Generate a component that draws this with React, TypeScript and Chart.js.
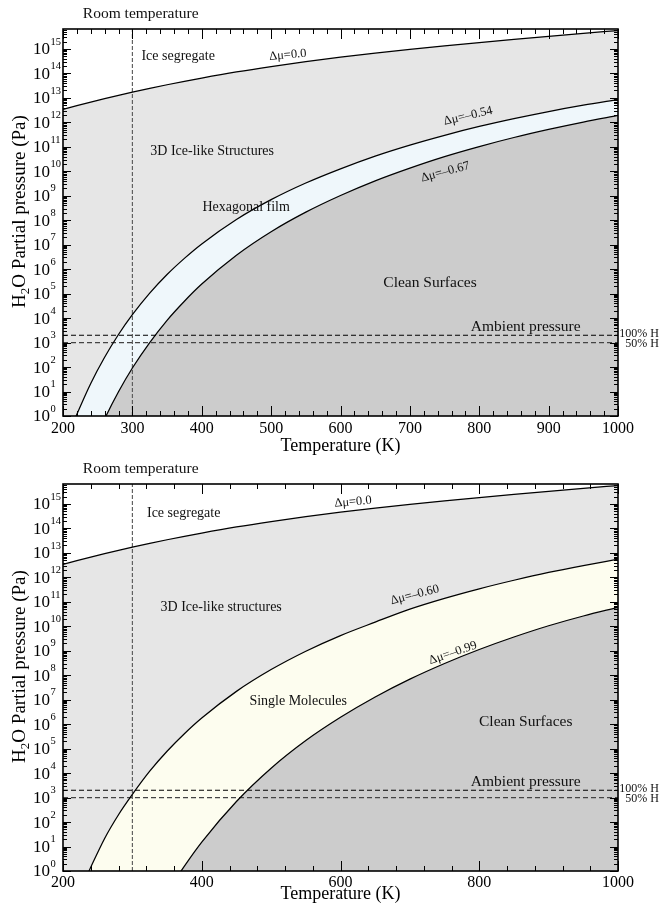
import React, { useEffect, useRef } from 'react';
import { Chart, registerables } from 'chart.js';

Chart.register(...registerables);

const FONT = '"Liberation Serif", "Times New Roman", Times, serif';

// Temperature grid (K)
const temperatures = [200, 220, 240, 260, 280, 300, 325, 350, 375, 400, 450, 500, 550, 600, 650, 700, 750, 800, 850, 900, 950, 1000];

// Phase boundaries: exponent of the H2O partial pressure, log10(p / Pa)
const mu000 = [12.53, 12.68, 12.825, 12.965, 13.1, 13.23, 13.385, 13.535, 13.675, 13.81, 14.06, 14.28, 14.48, 14.66, 14.825, 14.98, 15.125, 15.26, 15.39, 15.515, 15.635, 15.75];
const mu054 = [-1.29, 0.07, 1.33, 2.4, 3.33, 4.14, 5.02, 5.78, 6.44, 7.03, 8.03, 8.84, 9.52, 10.1, 10.62, 11.07, 11.47, 11.83, 12.15, 12.44, 12.7, 12.93];
const mu067 = [-4.57, -2.91, -1.4, -0.12, 0.99, 1.96, 3.0, 3.91, 4.69, 5.39, 6.57, 7.53, 8.33, 9.01, 9.61, 10.13, 10.6, 11.01, 11.38, 11.71, 12.01, 12.28];
const mu060 = [-2.59, -1.1, 0.15, 1.33, 2.3, 3.13, 4.08, 4.895, 5.61, 6.25, 7.34, 8.23, 8.98, 9.62, 10.17, 10.7, 11.14, 11.53, 11.88, 12.2, 12.48, 12.74];
const mu099 = [-12.42, -10.04, -8.04, -6.23, -4.72, -3.4, -1.97, -0.87, 0.2, 1.18, 2.84, 4.2, 5.33, 6.28, 7.11, 7.84, 8.48, 9.05, 9.56, 10.02, 10.42, 10.77];

// Reference lines
const roomTemperature = 300;
const pressure100H = 2000;
const pressure50H = 1000;

// Axis ranges
const tempMin = 200;
const tempMax = 1000;
const pressureMin = 1;
const pressureMax = 6.5e15;
const maxDecade = 15;

// Label texts
const topLabels = [
  { text: 'Ice segregate', t: 366, e: 14.71, size: 14, rot: 0 },
  { text: 'Δμ=0.0', t: 524, e: 14.75, size: 12.5, rot: -5 },
  { text: '3D Ice-like Structures', t: 415, e: 10.83, size: 14, rot: 0 },
  { text: 'Δμ=–0.54', t: 784, e: 12.26, size: 12.5, rot: -13 },
  { text: 'Δμ=–0.67', t: 751, e: 9.97, size: 12.5, rot: -15 },
  { text: 'Hexagonal film', t: 464, e: 8.54, size: 14, rot: 0 },
  { text: 'Clean Surfaces', t: 729, e: 5.43, size: 15.5, rot: 0 },
  { text: 'Ambient pressure', t: 867, e: 3.64, size: 15.5, rot: 0 },
];
const bottomLabels = [
  { text: 'Ice segregate', t: 374, e: 14.63, size: 14, rot: 0 },
  { text: 'Δμ=0.0', t: 618, e: 15.08, size: 12.5, rot: -5 },
  { text: '3D Ice-like structures', t: 428, e: 10.79, size: 14, rot: 0 },
  { text: 'Δμ=–0.60', t: 707, e: 11.28, size: 12.5, rot: -14.5 },
  { text: 'Δμ=–0.99', t: 762, e: 8.91, size: 12.5, rot: -19 },
  { text: 'Single Molecules', t: 539, e: 6.95, size: 14, rot: 0 },
  { text: 'Clean Surfaces', t: 867, e: 6.09, size: 15.5, rot: 0 },
  { text: 'Ambient pressure', t: 867, e: 3.64, size: 15.5, rot: 0 },
];

const COL_3D = '#e6e6e6';
const COL_CLEAN = '#cccccc';
const COL_HEX = '#eff7fb';
const COL_SINGLE = '#fdfdef';

type Label = { text: string; t: number; e: number; size: number; rot: number };

type Panel = {
  upper: number[];
  middle: number[];
  lower: number[];
  bandColor: string;
  xStep: number;
  xMajor: number;
  labels: Label[];
  titlePad: number;
  tickPad: number;
};

const isPow10 = (v: number) => {
  const lg = Math.log10(v);
  return Math.abs(lg - Math.round(lg)) < 1e-6;
};

function decorPlugin(p: Panel) {
  return {
    id: 'phaseDecor',
    afterDraw(chart: any) {
      const ctx: CanvasRenderingContext2D = chart.ctx;
      const xs = chart.scales.x;
      const ys = chart.scales.y;
      const { left, right, top, bottom } = chart.chartArea;
      ctx.save();

      // region labels
      ctx.fillStyle = '#111';
      for (const lb of p.labels) {
        const x = xs.getPixelForValue(lb.t);
        const y = ys.getPixelForValue(Math.pow(10, lb.e));
        ctx.save();
        ctx.translate(x, y);
        if (lb.rot) ctx.rotate((lb.rot * Math.PI) / 180);
        ctx.font = `${lb.size}px ${FONT}`;
        ctx.textAlign = 'center';
        ctx.textBaseline = 'middle';
        ctx.fillText(lb.text, 0, 0);
        ctx.restore();
      }

      // room temperature label above the frame
      ctx.font = `15.5px ${FONT}`;
      ctx.textAlign = 'center';
      ctx.textBaseline = 'middle';
      ctx.fillText('Room temperature', xs.getPixelForValue(312), top - 15);

      // humidity labels at the right
      ctx.font = `12px ${FONT}`;
      ctx.textAlign = 'right';
      ctx.fillText('100% H', right + 41, ys.getPixelForValue(pressure100H) - 1);
      ctx.fillText('50% H', right + 41, ys.getPixelForValue(pressure50H) + 1.5);

      // frame
      ctx.strokeStyle = '#000';
      ctx.lineWidth = 1.6;
      ctx.strokeRect(left, top, right - left, bottom - top);

      // inward ticks
      ctx.lineWidth = 1;
      ctx.beginPath();
      for (const tk of xs.ticks) {
        const x = Math.round(xs.getPixelForValue(tk.value)) + 0.5;
        const len = tk.value % p.xMajor === 0 ? 10 : 5;
        ctx.moveTo(x, bottom);
        ctx.lineTo(x, bottom - len);
        ctx.moveTo(x, top);
        ctx.lineTo(x, top + len);
      }
      for (const tk of ys.ticks) {
        const y = Math.round(ys.getPixelForValue(tk.value)) + 0.5;
        const len = isPow10(tk.value) ? 8 : 4;
        ctx.moveTo(left, y);
        ctx.lineTo(left + len, y);
        ctx.moveTo(right, y);
        ctx.lineTo(right - len, y);
      }
      ctx.stroke();

      // y tick labels 10^n
      ctx.fillStyle = '#000';
      for (const tk of ys.ticks) {
        if (!isPow10(tk.value)) continue;
        const n = Math.round(Math.log10(tk.value));
        const y = ys.getPixelForValue(tk.value);
        ctx.font = `17px ${FONT}`;
        ctx.textAlign = 'right';
        ctx.textBaseline = 'middle';
        ctx.fillText('10', left - 13, y + 1);
        ctx.font = `10.5px ${FONT}`;
        ctx.textAlign = 'left';
        ctx.fillText(String(n), left - 12.5, y - 7);
      }

      // y axis title with subscript
      ctx.save();
      ctx.translate(25, (top + bottom) / 2 - 11);
      ctx.rotate(-Math.PI / 2);
      ctx.textAlign = 'left';
      ctx.textBaseline = 'alphabetic';
      const big = `19px ${FONT}`;
      const small = `13px ${FONT}`;
      const rest = 'O Partial pressure (Pa)';
      ctx.font = big;
      const wH = ctx.measureText('H').width;
      const wR = ctx.measureText(rest).width;
      ctx.font = small;
      const w2 = ctx.measureText('2').width;
      let x0 = -(wH + w2 + wR) / 2;
      ctx.font = big;
      ctx.fillText('H', x0, 0);
      x0 += wH;
      ctx.font = small;
      ctx.fillText('2', x0, 4);
      x0 += w2;
      ctx.font = big;
      ctx.fillText(rest, x0, 0);
      ctx.restore();

      ctx.restore();
    },
  };
}

function curve(exps: number[], color: string, fill: any) {
  return {
    data: temperatures.map((t, i) => ({ x: t, y: Math.pow(10, exps[i]) })),
    borderColor: '#000',
    borderWidth: 1.25,
    pointRadius: 0,
    fill,
    backgroundColor: color,
    cubicInterpolationMode: 'monotone',
  };
}

function hline(p: number, color: string) {
  return {
    data: [
      { x: tempMin, y: p },
      { x: tempMax, y: p },
    ],
    borderColor: color,
    borderWidth: 1.1,
    borderDash: [5, 3],
    pointRadius: 0,
    fill: false,
  };
}

function vline(t: number) {
  return {
    data: [
      { x: t, y: pressureMin },
      { x: t, y: pressureMax },
    ],
    borderColor: '#555',
    borderWidth: 1.1,
    borderDash: [4, 2],
    pointRadius: 0,
    fill: false,
  };
}

function logTicks() {
  const out: { value: number; major: boolean }[] = [];
  for (let n = 0; n <= maxDecade; n++) {
    for (let m = 1; m <= 9; m++) {
      const v = m * Math.pow(10, n);
      if (v <= pressureMax) out.push({ value: v, major: m === 1 });
    }
  }
  return out;
}

function buildConfig(p: Panel): any {
  return {
    type: 'line',
    data: {
      datasets: [
        curve(p.lower, COL_CLEAN, 'start'),
        curve(p.middle, p.bandColor, '-1'),
        curve(p.upper, COL_3D, '-1'),
        hline(pressure100H, '#000'),
        hline(pressure50H, '#444'),
        vline(roomTemperature),
      ],
    },
    options: {
      responsive: false,
      animation: false,
      layout: { padding: { left: 0, right: 42, top: 29, bottom: 0 } },
      plugins: {
        legend: { display: false },
        tooltip: { enabled: false },
        filler: { drawTime: 'beforeDatasetsDraw' },
      },
      scales: {
        x: {
          type: 'linear',
          min: tempMin,
          max: tempMax,
          grid: { display: false, drawTicks: false },
          border: { display: false },
          ticks: {
            stepSize: p.xStep,
            maxTicksLimit: 200,
            autoSkip: false,
            maxRotation: 0,
            minRotation: 0,
            padding: p.tickPad,
            color: '#000',
            font: { family: FONT, size: 16 },
            callback: (v: number) => (v % p.xMajor === 0 ? String(v) : ''),
          },
          title: {
            display: true,
            text: 'Temperature (K)',
            color: '#000',
            font: { family: FONT, size: 18, lineHeight: 1 },
            padding: { top: 0, bottom: p.titlePad },
          },
          afterFit: (s: any) => {
            s.height = 39;
            s.paddingLeft = 0;
            s.paddingRight = 0;
          },
        },
        y: {
          type: 'logarithmic',
          min: pressureMin,
          max: pressureMax,
          grid: { display: false, drawTicks: false },
          border: { display: false },
          ticks: { display: false },
          afterBuildTicks: (s: any) => {
            s.ticks = logTicks();
          },
          afterFit: (s: any) => {
            s.width = 63;
            s.paddingTop = 0;
            s.paddingBottom = 0;
          },
        },
      },
    },
    plugins: [decorPlugin(p)],
  };
}

const topPanel: Panel = {
  upper: mu000,
  middle: mu054,
  lower: mu067,
  bandColor: COL_HEX,
  xStep: 20,
  xMajor: 100,
  labels: topLabels,
  titlePad: 0,
  tickPad: 3,
};

const bottomPanel: Panel = {
  upper: mu000,
  middle: mu060,
  lower: mu099,
  bandColor: COL_SINGLE,
  xStep: 40,
  xMajor: 200,
  labels: bottomLabels,
  titlePad: 7,
  tickPad: 2,
};

function PhaseChart({ panel }: { panel: Panel }) {
  const ref = useRef<HTMLCanvasElement | null>(null);
  useEffect(() => {
    if (!ref.current) return;
    const chart = new Chart(ref.current, buildConfig(panel));
    return () => chart.destroy();
  }, [panel]);
  return <canvas ref={ref} width={660} height={455} style={{ display: 'block', width: 660, height: 455 }} />;
}

export default function App() {
  return (
    <div style={{ position: 'absolute', left: 0, top: 0, width: 660, height: 910, background: '#fff' }}>
      <PhaseChart panel={topPanel} />
      <PhaseChart panel={bottomPanel} />
    </div>
  );
}
